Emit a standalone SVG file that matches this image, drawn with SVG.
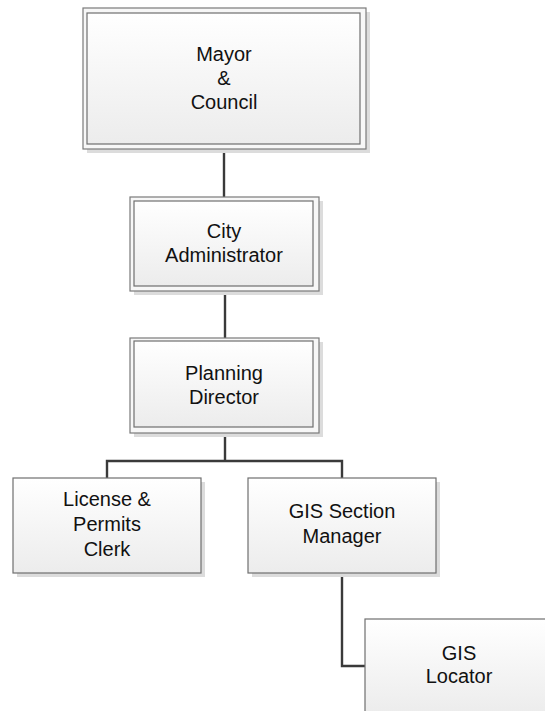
<svg xmlns="http://www.w3.org/2000/svg" width="545" height="711" viewBox="0 0 545 711">
  <defs>
    <linearGradient id="boxFill" x1="0" y1="0" x2="0" y2="1">
      <stop offset="0" stop-color="#ffffff"/>
      <stop offset="1" stop-color="#ececec"/>
    </linearGradient>
    <style>
      .shadow { fill: #dcdcdc; }
      .frame { fill: #f7f7f7; stroke: #7a7a7a; stroke-width: 1.2; }
      .box { fill: url(#boxFill); stroke: #6f6f6f; stroke-width: 1.2; }
      .label { font-family: "Liberation Sans", Arial, sans-serif; font-size: 20px; fill: #111; text-anchor: middle; }
      .conn { fill: none; stroke: #3a3a3a; stroke-width: 2.4; }
    </style>
  </defs>
  <rect width="545" height="711" fill="#ffffff"/>

  <!-- reporting lines -->
  <g id="connectors">
    <path class="conn" d="M224,149 V197"/>
    <path class="conn" d="M225,291 V338"/>
    <path class="conn" d="M225,433 V461 M107,478 V461 H342 V478"/>
    <path class="conn" d="M342,573 V666 H365"/>
  </g>

  <!-- executive level: double frame -->
  <g id="mayor-council">
    <rect class="shadow" x="87" y="12" width="283" height="141"/>
    <rect class="frame" x="83" y="8" width="283" height="141"/>
    <rect class="box" x="87" y="13" width="273" height="131"/>
    <text class="label" x="224" y="61">Mayor</text>
    <text class="label" x="224" y="85">&amp;</text>
    <text class="label" x="224" y="109">Council</text>
  </g>

  <g id="city-administrator">
    <rect class="shadow" x="134" y="201" width="189" height="94"/>
    <rect class="frame" x="130" y="197" width="189" height="94"/>
    <rect class="box" x="134" y="201" width="179" height="85"/>
    <text class="label" x="224" y="238">City</text>
    <text class="label" x="224" y="262">Administrator</text>
  </g>

  <g id="planning-director">
    <rect class="shadow" x="134" y="342" width="189" height="95"/>
    <rect class="frame" x="130" y="338" width="189" height="95"/>
    <rect class="box" x="134" y="341" width="179" height="86"/>
    <text class="label" x="224" y="380">Planning</text>
    <text class="label" x="224" y="404">Director</text>
  </g>

  <!-- staff level: single frame -->
  <g id="license-permits-clerk">
    <rect class="shadow" x="17" y="482" width="188" height="95"/>
    <rect class="box" x="13" y="478" width="188" height="95"/>
    <text class="label" x="107" y="506">License &amp;</text>
    <text class="label" x="107" y="531">Permits</text>
    <text class="label" x="107" y="556">Clerk</text>
  </g>

  <g id="gis-section-manager">
    <rect class="shadow" x="252" y="482" width="188" height="95"/>
    <rect class="box" x="248" y="478" width="188" height="95"/>
    <text class="label" x="342" y="518">GIS Section</text>
    <text class="label" x="342" y="543">Manager</text>
  </g>

  <g id="gis-locator">
    <rect class="shadow" x="369" y="623" width="188" height="95"/>
    <rect class="box" x="365" y="619" width="188" height="95"/>
    <text class="label" x="459" y="660">GIS</text>
    <text class="label" x="459" y="683">Locator</text>
  </g>
</svg>
